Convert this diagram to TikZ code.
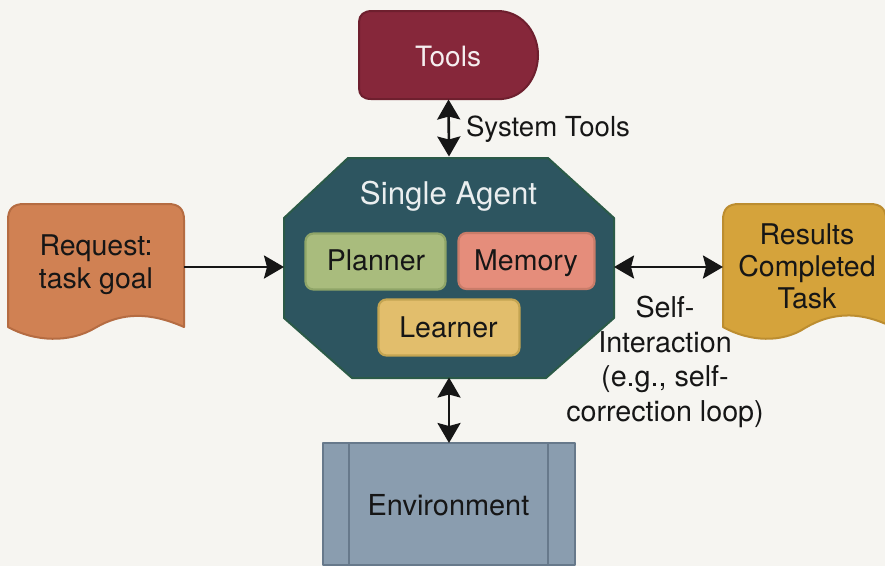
\documentclass[tikz,border=0pt]{standalone}
\usepackage{fontspec}
\setmainfont{TeX Gyre Heros}
\usetikzlibrary{arrows.meta}
\definecolor{paper}{HTML}{F6F5F1}
\definecolor{ink}{HTML}{161616}
\definecolor{toolsfill}{HTML}{86273A}
\definecolor{toolsline}{HTML}{6E1F2E}
\definecolor{agentfill}{HTML}{2D5560}
\definecolor{agentline}{HTML}{2B5A48}
\definecolor{plannerfill}{HTML}{A9BC7D}
\definecolor{plannerline}{HTML}{8FA568}
\definecolor{memoryfill}{HTML}{E58D7B}
\definecolor{memoryline}{HTML}{C97C69}
\definecolor{learnerfill}{HTML}{E2BE6C}
\definecolor{learnerline}{HTML}{C4A552}
\definecolor{requestfill}{HTML}{D08153}
\definecolor{requestline}{HTML}{B56C42}
\definecolor{resultsfill}{HTML}{D5A33B}
\definecolor{resultsline}{HTML}{BC8D30}
\definecolor{envfill}{HTML}{8A9DAF}
\definecolor{envline}{HTML}{67798B}
\tikzset{
  x=1pt,y=-1pt,
  anchorbox/.style={inner sep=0pt,outer sep=0pt,minimum width=#1},
  outline/.style={line width=2pt,line join=round},
  txt/.style={inner sep=0pt,outer sep=0pt,anchor=base,text=ink,font=\fontsize{28.5}{33}\selectfont},
  multi/.style={inner sep=0pt,outer sep=0pt,align=center,text=ink,font=\fontsize{28.5}{#1}\selectfont},
  link/.style={line width=2.6pt,draw=ink,{Stealth[length=20pt,width=23pt,inset=3pt]}-{Stealth[length=20pt,width=23pt,inset=3pt]}},
  oneway/.style={line width=2.6pt,draw=ink,-{Stealth[length=20pt,width=23pt,inset=3pt]}},
  chip/.style={rounded corners=8pt,line width=2.2pt,inner sep=0pt,outer sep=0pt}
}
\begin{document}
\begin{tikzpicture}
\path[fill=paper] (0,0) rectangle (885,566);
\useasboundingbox (0,0) rectangle (885,566);

% Tools
\draw[outline,fill=toolsfill,draw=toolsline] (372,11) -- (500,11) .. controls (525,13) and (538,35) .. (538,55) .. controls (538,76) and (525,97) .. (502,99) -- (371,99) .. controls (363,99) and (359,95) .. (359,88) -- (359,22) .. controls (359,15) and (364,11) .. (372,11) -- cycle;
\node[anchorbox=179pt,minimum height=89pt] (tools) at (448.5,55) {};
\node[txt,text=white!92!toolsfill,font=\fontsize{28}{32}\selectfont] (toolstext) at (448,66) {Tools};

% Agent
\draw[outline,fill=agentfill,draw=agentline] (348,158) -- (548,158) -- (614,218) -- (614,318) -- (546,378) -- (352,378) -- (284,318) -- (284,218) -- cycle;
\node[anchorbox=330pt,minimum height=221pt] (agent) at (449,267) {};
\node[txt,text=white!90!agentfill,font=\fontsize{31.3}{36}\selectfont] (agenttext) at (448.5,204) {Single Agent};

% Inner chips
\node[chip,draw=plannerline,fill=plannerfill,minimum width=140pt,minimum height=56pt] (planner) at (375.5,261.5) {};
\node[txt] at (376,270) {Planner};
\node[chip,draw=memoryline,fill=memoryfill,minimum width=136pt,minimum height=56pt] (memory) at (526.5,261) {};
\node[txt] at (526,270) {Memory};
\node[chip,draw=learnerline,fill=learnerfill,minimum width=141pt,minimum height=56pt] (learner) at (449,327.5) {};
\node[txt] at (448.5,337) {Learner};

% Request
\draw[outline,fill=requestfill,draw=requestline] (8,327) -- (8,220) .. controls (8,209) and (13,204) .. (24,204) -- (168,204) .. controls (179,204) and (184,209) .. (184,220) -- (184,327) .. controls (150,312) and (122,312) .. (95,328) .. controls (70,343) and (35,342) .. (8,327) -- cycle;
\node[anchorbox=176pt,minimum height=126pt] (request) at (96,267) {};
\node[multi=33pt] (requesttext) at (96,265) {Request:\\task goal};

% Results
\draw[outline,fill=resultsfill,draw=resultsline] (723,327) -- (723,220) .. controls (723,209) and (728,204) .. (739,204) -- (870,204) .. controls (881,204) and (886,209) .. (886,220) -- (886,324) .. controls (858,312) and (832,312) .. (805,328) .. controls (782,343) and (750,342) .. (723,327) -- cycle;
\node[anchorbox=163pt,minimum height=126pt] (results) at (804.5,267) {};
\node[multi=32pt] (resultstext) at (807,266) {Results\\Completed\\Task};

% Environment
\draw[outline,fill=envfill,draw=envline] (323,443) rectangle (575,565);
\draw[line width=2.4pt,draw=envline] (349,443) -- (349,565) (548,443) -- (548,565);
\node[anchorbox=252pt,minimum height=122pt] (env) at (449,504) {};
\node[txt,font=\fontsize{28.9}{33}\selectfont] (envtext) at (448.5,515) {Environment};

% Connectors
\draw[link] (tools.south) -- (agent.north);
\draw[link] (agent.south) -- (env.north);
\draw[oneway] (request.east) -- (agent.west);
\draw[link] (agent.east) -- (results.west);

% Connector labels
\node[txt,font=\fontsize{27.6}{32}\selectfont] (toolslabel) at (548,136) {System Tools};
\node[multi=34.5pt,font=\fontsize{28.7}{34.5}\selectfont] (selflabel) at (665,362) {Self-\\Interaction\\(e.g., self-\\correction loop)};
\end{tikzpicture}
\end{document}
